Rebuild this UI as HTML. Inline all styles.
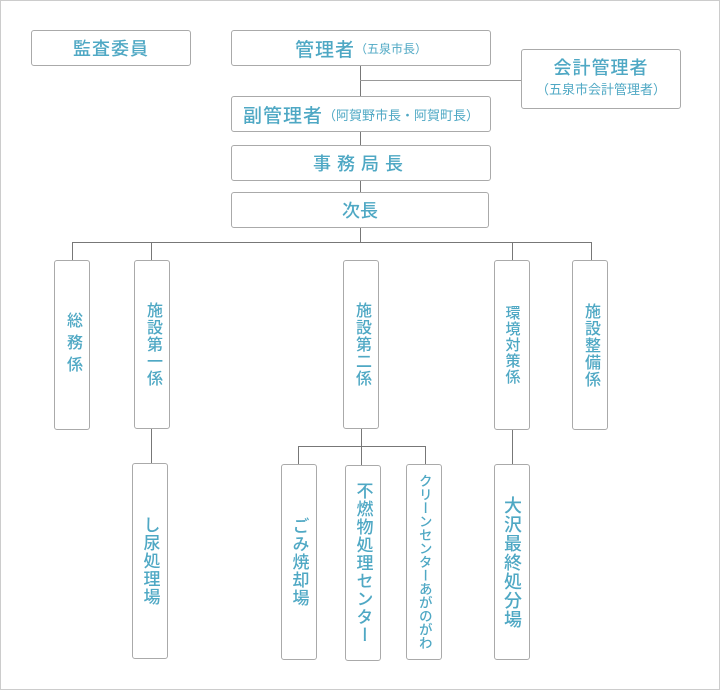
<!DOCTYPE html>
<html><head><meta charset="utf-8"><style>
body{margin:0;width:720px;height:690px;position:relative;background:#fff;font-family:"Liberation Sans","Noto Sans CJK JP",sans-serif;color:#4fa8c4;overflow:hidden}
.frame{position:absolute;left:0;top:0;width:718px;height:688px;border:1px solid #ccc}
.b{position:absolute;border:1px solid #aaa;border-radius:3px;background:#fff;box-sizing:border-box;display:flex;align-items:center;justify-content:center;text-align:center;font-weight:500}
.v{writing-mode:vertical-rl;font-size:16px;letter-spacing:1px;line-height:1}
.l{position:absolute;background:#777}
small{font-size:12px;font-weight:normal}
</style></head><body>
<div class="frame"></div>
<div class="l" style="left:360px;top:65px;width:1px;height:177px"></div>
<div class="l" style="left:360px;top:80px;width:162px;height:1px;background:#999"></div>
<div class="l" style="left:72px;top:242px;width:520px;height:1px"></div>
<div class="l" style="left:72px;top:242px;width:1px;height:18px"></div>
<div class="l" style="left:151px;top:242px;width:1px;height:18px"></div>
<div class="l" style="left:512px;top:242px;width:1px;height:18px"></div>
<div class="l" style="left:591px;top:242px;width:1px;height:18px"></div>
<div class="l" style="left:151px;top:428px;width:1px;height:36px"></div>
<div class="l" style="left:361px;top:428px;width:1px;height:37px"></div>
<div class="l" style="left:298px;top:446px;width:128px;height:1px"></div>
<div class="l" style="left:298px;top:446px;width:1px;height:18px"></div>
<div class="l" style="left:425px;top:446px;width:1px;height:18px"></div>
<div class="l" style="left:512px;top:429px;width:1px;height:35px"></div>

<div class="b" style="left:31px;top:30px;width:160px;height:36px;font-size:18px;letter-spacing:1px">監査委員</div>
<div class="b" style="left:231px;top:30px;width:260px;height:36px;font-size:19px;letter-spacing:1px">管理者<small style="letter-spacing:0">（五泉市長）</small></div>
<div class="b" style="left:521px;top:49px;width:160px;height:60px;flex-direction:column;font-size:18px;letter-spacing:1px;line-height:22px">会計管理者<small style="letter-spacing:0;font-size:13px">（五泉市会計管理者）</small></div>
<div class="b" style="left:231px;top:96px;width:260px;height:36px;font-size:19px;letter-spacing:1px">副管理者<small style="letter-spacing:0;font-size:13px">（阿賀野市長・阿賀町長）</small></div>
<div class="b" style="left:231px;top:145px;width:260px;height:36px;font-size:18px;letter-spacing:6px">事務局長</div>
<div class="b" style="left:231px;top:192px;width:258px;height:36px;font-size:18px">次長</div>

<div class="b v" style="left:54px;top:260px;width:36px;height:170px;letter-spacing:6px">総務係</div>
<div class="b v" style="left:134px;top:260px;width:36px;height:169px">施設第一係</div>
<div class="b v" style="left:343px;top:260px;width:36px;height:169px">施設第二係</div>
<div class="b v" style="left:494px;top:260px;width:36px;height:170px;font-size:15px">環境対策係</div>
<div class="b v" style="left:572px;top:260px;width:36px;height:170px">施設整備係</div>

<div class="b v" style="left:132px;top:463px;width:36px;height:196px;font-size:17px">し尿処理場</div>
<div class="b v" style="left:281px;top:464px;width:36px;height:196px;font-size:17px">ごみ焼却場</div>
<div class="b v" style="left:345px;top:465px;width:36px;height:196px;justify-content:flex-start;padding-top:16px;font-size:17px">不燃物処理センター</div>
<div class="b v" style="left:406px;top:464px;width:36px;height:196px;font-size:13.5px;letter-spacing:0;padding:0">クリーンセンターあがのがわ</div>
<div class="b v" style="left:494px;top:464px;width:36px;height:196px;font-size:18px">大沢最終処分場</div>
</body></html>
